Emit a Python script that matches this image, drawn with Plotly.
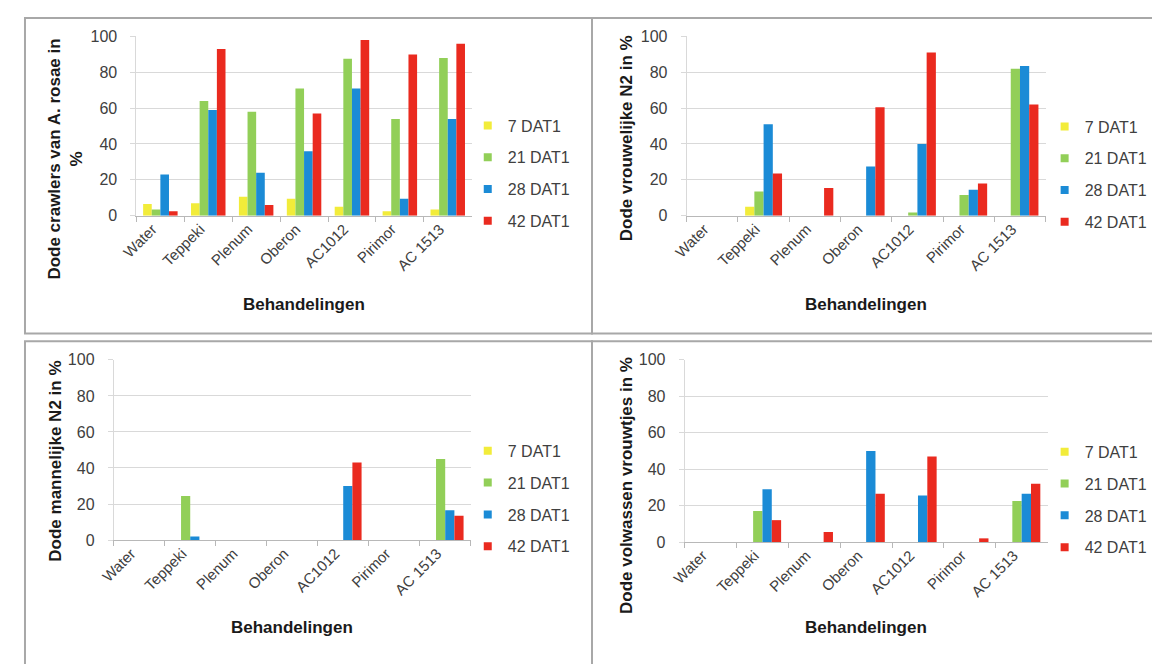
import plotly.graph_objects as go

# ---------------- data ----------------
categories = ["Water", "Teppeki", "Plenum", "Oberon", "AC1012", "Pirimor", "AC 1513"]
series_names = ["7 DAT1", "21 DAT1", "28 DAT1", "42 DAT1"]

# Panel 1: Dode crawlers van A. rosae in %
crawlers_7 = [6.5, 7, 10.5, 9.5, 5, 2.5, 3.5]
crawlers_21 = [3.5, 64, 58, 71, 87.5, 54, 88]
crawlers_28 = [23, 59, 24, 36, 71, 9.5, 54]
crawlers_42 = [2.5, 93, 6, 57, 98, 90, 96]

# Panel 2: Dode vrouwelijke N2 in %
vrouw_n2_7 = [0, 5, 0, 0, 0, 0, 0]
vrouw_n2_21 = [0, 13.5, 0, 0, 1.8, 11.5, 82]
vrouw_n2_28 = [0, 51, 0, 27.5, 40, 14.5, 83.5]
vrouw_n2_42 = [0, 23.5, 15.5, 60.5, 91, 18, 62]

# Panel 3: Dode mannelijke N2 in %
man_n2_7 = [0, 0, 0, 0, 0, 0, 0]
man_n2_21 = [0, 24.5, 0, 0, 0, 0, 45]
man_n2_28 = [0, 2, 0, 0, 30, 0, 16.5]
man_n2_42 = [0, 0, 0, 0, 43, 0, 13.5]

# Panel 4: Dode volwassen vrouwtjes in %
volw_7 = [0, 0, 0, 0, 0, 0, 0]
volw_21 = [0, 17, 0, 0, 0, 0, 22.5]
volw_28 = [0, 29, 0, 50, 25.5, 0, 26.5]
volw_42 = [0, 12, 5.5, 26.5, 47, 2, 32]

y_titles = [
    "Dode crawlers van A. rosae in<br>%",
    "Dode vrouwelijke N2 in %",
    "Dode mannelijke N2 in %",
    "Dode volwassen vrouwtjes in %",
]
x_title = "Behandelingen"

panels = [
    [crawlers_7, crawlers_21, crawlers_28, crawlers_42],
    [vrouw_n2_7, vrouw_n2_21, vrouw_n2_28, vrouw_n2_42],
    [man_n2_7, man_n2_21, man_n2_28, man_n2_42],
    [volw_7, volw_21, volw_28, volw_42],
]

# ---------------- styling ----------------
SCREEN_W, SCREEN_H = 1160, 664
OFF = 8  # default page body margin
W, H = SCREEN_W - OFF, SCREEN_H - OFF
colors = ["#f2ec3a", "#92cf58", "#1b8bd6", "#ea2a1f"]
TICK_FONT = "Liberation Sans, Arial, sans-serif"
TITLE_FONT = "Liberation Sans, Arial, sans-serif"


def px(x):
    return (x - OFF) / W


def py(y):
    return 1 - (y - OFF) / H


# plot rectangles in screen pixels: (x0, x1, ytop, ybottom)
rects = [
    (122, 462, 29, 213),
    (680, 1044, 29, 213),
    (99, 461, 361, 546),
    (678, 1046, 361, 548),
]
# y-title centre (x, y) in screen pixels
ytitle_pos = [(50, 155), (619, 134), (40, 465), (619, 490)]
# x-title y in screen pixels
xtitle_y = [304, 304, 636, 636]
# legend top-left in screen pixels
legend_pos = [(458, 103), (1043, 104), (458, 437), (1043, 438)]

fig = go.Figure()
layout = dict(
    width=W,
    height=H,
    margin=dict(l=0, r=0, t=0, b=0),
    paper_bgcolor="white",
    plot_bgcolor="white",
    barmode="group",
    bargap=0.28,
    bargroupgap=0,
    annotations=[],
    shapes=[],
)

for p, (vals, rect) in enumerate(zip(panels, rects)):
    sfx = "" if p == 0 else str(p + 1)
    xa, ya = "x" + sfx, "y" + sfx
    leg = "legend" if p == 0 else "legend" + str(p + 1)
    for s, (name, col) in enumerate(zip(series_names, colors)):
        fig.add_trace(
            go.Bar(
                x=categories,
                y=vals[s],
                name=name,
                marker=dict(color=col, line=dict(width=0)),
                xaxis=xa,
                yaxis=ya,
                showlegend=False,
                offsetgroup=str(s),
                hoverinfo="skip",
            )
        )
    # legend entries with small square swatches
    for s, (name, col) in enumerate(zip(series_names, colors)):
        fig.add_trace(
            go.Scatter(
                x=[None],
                y=[None],
                mode="markers",
                name=name,
                marker=dict(symbol="square", size=8, color=col),
                xaxis=xa,
                yaxis=ya,
                legend=leg,
                legendgroup=f"p{p}s{s}",
                hoverinfo="skip",
            )
        )
    x0, x1, yt, yb = rect
    layout["xaxis" + sfx] = dict(
        domain=[px(x0), px(x1)],
        anchor=ya,
        type="category",
        categoryorder="array",
        categoryarray=categories,
        range=[-0.5, len(categories) - 0.5],
        showline=True,
        linecolor="#b8b8b8",
        linewidth=1,
        ticks="outside",
        tickson="boundaries",
        ticklen=5,
        tickcolor="#b8b8b8",
        tickangle=-45,
        ticklabelstandoff=-2,
        ticklabelshift=-8,
        tickfont=dict(family=TICK_FONT, size=15, color="#404040"),
        showgrid=False,
        zeroline=False,
        fixedrange=True,
    )
    layout["yaxis" + sfx] = dict(
        domain=[py(yb), py(yt)],
        anchor=xa,
        range=[0, 100],
        dtick=20,
        tick0=0,
        showgrid=True,
        gridcolor="#d9d9d9",
        gridwidth=1,
        showline=True,
        linecolor="#d9d9d9",
        ticks="outside",
        ticklen=5,
        tickcolor="#d9d9d9",
        ticklabelstandoff=10,
        tickfont=dict(family=TICK_FONT, size=16, color="#404040"),
        zeroline=False,
        fixedrange=True,
    )
    lx, ly = legend_pos[p]
    layout[leg] = dict(
        x=px(lx),
        y=py(ly),
        xanchor="left",
        yanchor="top",
        font=dict(family=TICK_FONT, size=16, color="#404040"),
        tracegroupgap=8,
        itemsizing="trace",
        bgcolor="rgba(0,0,0,0)",
        traceorder="grouped",
    )
    tx, ty = ytitle_pos[p]
    layout["annotations"].append(
        dict(
            text=f"<b>{y_titles[p]}</b>",
            x=px(tx),
            y=py(ty),
            xref="paper",
            yref="paper",
            textangle=-90,
            showarrow=False,
            xanchor="center",
            yanchor="middle",
            font=dict(family=TITLE_FONT, size=17, color="#1a1a1a"),
        )
    )
    layout["annotations"].append(
        dict(
            text=f"<b>{x_title}</b>",
            x=px((x0 + x1) / 2),
            y=py(xtitle_y[p]),
            xref="paper",
            yref="paper",
            showarrow=False,
            xanchor="center",
            yanchor="middle",
            font=dict(family=TITLE_FONT, size=17, color="#1a1a1a"),
        )
    )

# panel borders (screen pixel boxes)
boxes = [(9, 584, 10, 334), (584, 1175, 10, 334), (9, 584, 342, 680), (584, 1175, 342, 680)]
for bx0, bx1, by0, by1 in boxes:
    layout["shapes"].append(
        dict(
            type="rect",
            xref="paper",
            yref="paper",
            x0=px(bx0),
            x1=px(bx1),
            y0=py(by1),
            y1=py(by0),
            line=dict(color="#a8a8a8", width=2),
            fillcolor="rgba(0,0,0,0)",
            layer="below",
        )
    )

fig.update_layout(**layout)
fig.write_html("out.html")
